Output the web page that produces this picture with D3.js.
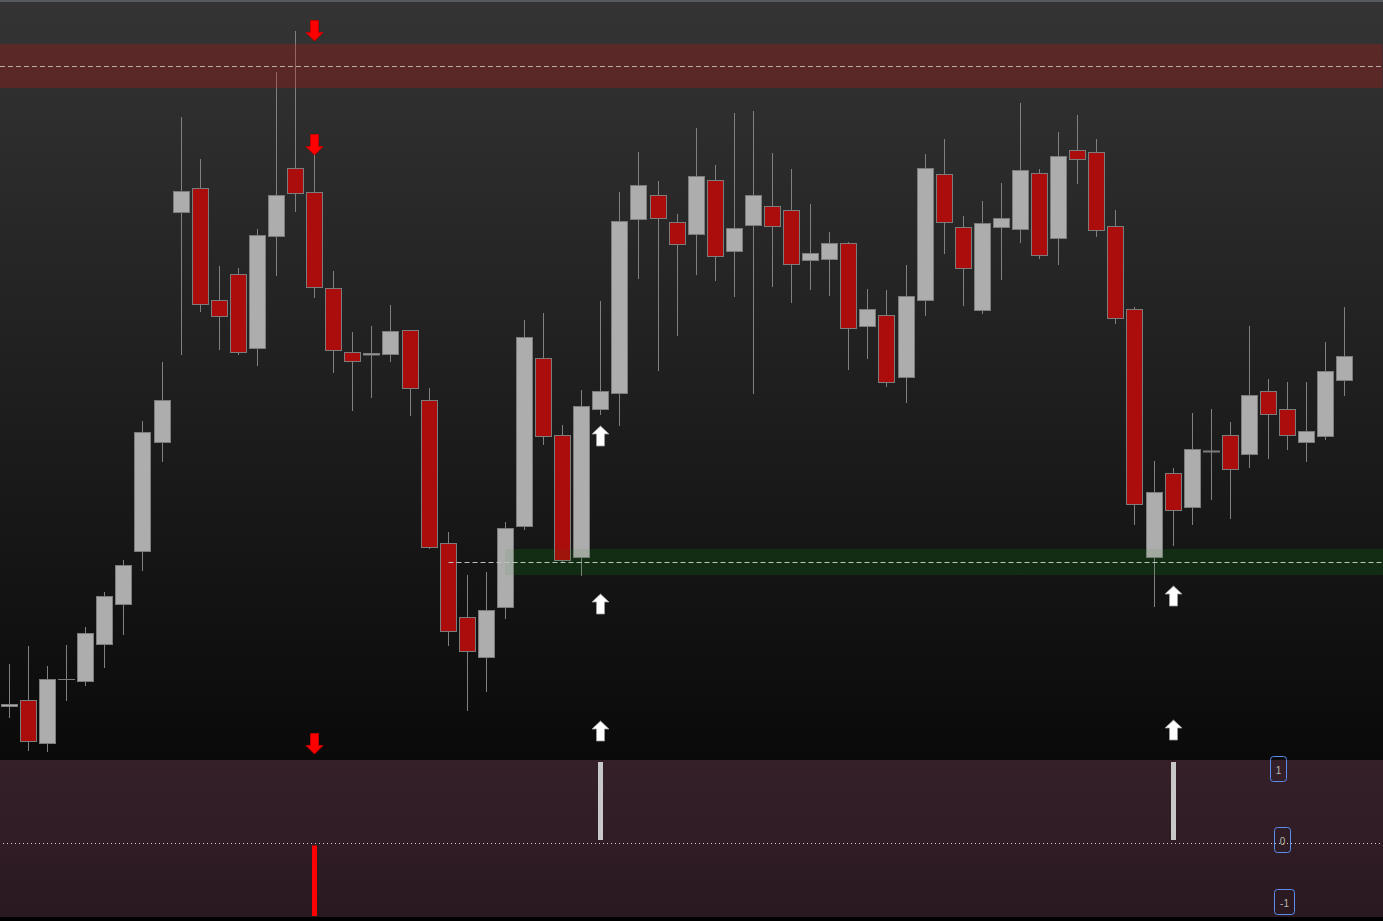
<!DOCTYPE html>
<html><head><meta charset="utf-8">
<style>html,body{margin:0;padding:0;background:#000;overflow:hidden}svg{display:block}</style>
<script src="https://d3js.org/d3.v7.min.js"></script></head><body><svg id="c" width="1383" height="921"></svg>
<script>
const highs=[96,114,94,115,133,168,200,339,398,643,601,494,492,531,688,729,605,489,428,434,455,430,372,228,185,188,238,440,447,335,370,459,568,608,579,546,632,595,647,649,607,591,556,528,518,471,470,495,606,621,544,559,577,657,591,628,645,621,550,453,299,292,347,351,338,434,381,378,378,418,453];
const lows=[42,9,8,59,74,92,125,189,298,405,448,410,405,394,484,548,462,387,349,362,398,344,211,114,49,68,141,230,315,198,184,345,334,481,389,424,485,479,463,366,473,457,470,464,390,401,373,357,444,506,454,446,480,517,501,495,576,523,436,235,153,214,235,260,241,292,301,310,298,320,364];
const opens=[53.5,59.5,16.5,80.5,78.5,115.5,155.5,208.5,317.5,547.5,571.5,459.5,485.5,411.5,523.5,591.5,567.5,471.5,407.5,405,405.5,429.5,359.5,216.5,142.5,102.5,152.5,233.5,401.5,324.5,202.5,350.5,366.5,540.5,564.5,537.5,525.5,579.5,508.5,534.5,553.5,549.5,499.5,500.5,516.5,433.5,444.5,382.5,459.5,585.5,532.5,449.5,532.5,530.5,586.5,521.5,609.5,607.5,533.5,450.5,202.5,286.5,252.5,308,324.5,305.5,368.5,350.5,317.5,323.5,379.5];
const closes=[55.5,18.5,80.5,80.5,126.5,163.5,194.5,327.5,359.5,568.5,455.5,443.5,407.5,524.5,564.5,566.5,472.5,409.5,398.5,406.5,428.5,371.5,212.5,128.5,108.5,149.5,231.5,422.5,323.5,199.5,353.5,368.5,538.5,574.5,541.5,515.5,583.5,503.5,531.5,564.5,533.5,495.5,506.5,516.5,431.5,450.5,377.5,463.5,591.5,537.5,491.5,536.5,541.5,589.5,504.5,603.5,600.5,529.5,441.5,255.5,267.5,249.5,310.5,309,290.5,364.5,345.5,324.5,328.5,388.5,403.5];
const resistance={level:693.5,upper:716,lower:672,from:0};
const support={level:197.5,upper:211,lower:185,from:26,lineFrom:23};
const downSignals=[[16,719],[16,605],[16,6]];
const upSignals=[[31,334],[31,166],[31,39],[61,174],[61,40]];
const oscillator=[[16,-1],[31,1],[61,1]];
const oscTicks=[1,0,-1];

const W=1383,H=921,PANEL_TOP=760,PANEL_BOTTOM=917;
const svg=d3.select('#c');
const defs=svg.append('defs');
function grad(id,stops){const g=defs.append('linearGradient').attr('id',id).attr('x1',0).attr('x2',0).attr('y1',0).attr('y2',1);
 stops.forEach(s=>g.append('stop').attr('offset',s[0]).attr('stop-color',s[1]));}
grad('bg',[[0,'#343434'],[1,'#0a0a0a']]);
grad('pn',[[0,'#352029'],[1,'#2a1921']]);

const x=d3.scaleLinear().domain([0,70]).range([9.39,1344.85]);
const y=d3.scaleLinear().domain([0,760]).range([760,0]);
const xp=i=>Math.floor(x(i))+.5;
const xEdge=i=>xp(i)-.5;

svg.append('rect').attr('width',W).attr('height',H).attr('fill','#000');
svg.append('rect').attr('width',W).attr('height',PANEL_TOP).attr('fill','url(#bg)');
svg.append('rect').attr('width',W).attr('height',2).attr('fill','#565a5e');

// demand zone base, beneath the candles
svg.append('rect').attr('x',xEdge(support.from)).attr('width',W)
 .attr('y',y(support.upper)).attr('height',y(support.lower)-y(support.upper))
 .attr('fill','rgba(15,135,20,0.14)');

const candles=d3.range(highs.length).map(i=>({i,h:highs[i],l:lows[i],o:opens[i],c:closes[i]}));
const g=svg.append('g');
g.selectAll('line.w').data(candles).join('line').attr('class','w')
 .attr('x1',d=>xp(d.i)).attr('x2',d=>xp(d.i)).attr('y1',d=>y(d.h)).attr('y2',d=>y(d.l))
 .attr('stroke','#808080').attr('stroke-width',1);
g.selectAll('rect.b').data(candles).join('rect').attr('class','b')
 .attr('x',d=>xp(d.i)-8).attr('width',16)
 .attr('y',d=>y(Math.max(d.o,d.c))).attr('height',d=>Math.max(.01,Math.abs(d.o-d.c)))
 .attr('fill',d=>d.c>=d.o?'#adadad':'#ab0c0c')
 .attr('stroke','#7c7c7c').attr('stroke-width',1);

// supply / demand zones
svg.append('rect').attr('x',x(resistance.from)-10).attr('width',W)
 .attr('y',y(resistance.upper)).attr('height',y(resistance.lower)-y(resistance.upper))
 .attr('fill','rgba(220,15,15,0.25)');
svg.append('rect').attr('x',xEdge(support.from)).attr('width',W)
 .attr('y',y(support.upper)).attr('height',y(support.lower)-y(support.upper))
 .attr('fill','rgba(15,135,20,0.07)');
svg.append('line').attr('x1',0).attr('x2',W).attr('y1',y(resistance.level)).attr('y2',y(resistance.level))
 .attr('stroke','#bfa8a8').attr('stroke-dasharray','5 3');
svg.append('line').attr('x1',xp(support.lineFrom)).attr('x2',W).attr('y1',y(support.level)).attr('y2',y(support.level))
 .attr('stroke','#bcc4bc').attr('stroke-dasharray','5 3');

// signal arrows (anchored at the tip)
const downShape='M-4,-20.5H4V-8.5H8.5L0,0L-8.5,-8.5H-4Z';
const upShape='M-4,20H4V8H8.5L0,0L-8.5,8H-4Z';
svg.selectAll('path.d').data(downSignals).join('path').attr('class','d').attr('d',downShape)
 .attr('transform',d=>`translate(${xp(d[0])},${y(d[1])})`).attr('fill','#ff0000').attr('stroke','#c00000').attr('stroke-width',1);
svg.selectAll('path.u').data(upSignals).join('path').attr('class','u').attr('d',upShape)
 .attr('transform',d=>`translate(${xp(d[0])},${y(d[1])})`).attr('fill','#ffffff').attr('stroke','#9a9a9a').attr('stroke-width',.8);

// oscillator panel
svg.append('rect').attr('y',PANEL_TOP).attr('width',W).attr('height',PANEL_BOTTOM-PANEL_TOP).attr('fill','url(#pn)');
const yo=d3.scaleLinear().domain([-1,1]).range([916,762]);
const zero=843.5;
svg.append('line').attr('x1',3).attr('x2',W).attr('y1',zero).attr('y2',zero)
 .attr('stroke','#d8d0d4').attr('stroke-dasharray','1 3');
svg.selectAll('rect.o').data(oscillator).join('rect').attr('class','o')
 .attr('x',d=>xp(d[0])-2.5).attr('width',5)
 .attr('y',d=>d[1]>0?yo(d[1]):zero+2)
 .attr('height',d=>d[1]>0?(zero-3.5-yo(d[1])):(yo(d[1])-zero-2))
 .attr('fill',d=>d[1]>0?'#c8c8c8':'#ff0000');

// oscillator tick tags
const tagX=[1270.5,1274.5,1274.5],tagW=[16,16,20],tagY=[756.5,827.5,889.5];
const tags=svg.selectAll('g.t').data(oscTicks).join('g').attr('class','t');
tags.append('rect').attr('x',(d,i)=>tagX[i]).attr('y',(d,i)=>tagY[i]).attr('width',(d,i)=>tagW[i]).attr('height',25)
 .attr('rx',3).attr('fill','none').attr('stroke','#5b8cf0').attr('stroke-width',1);
tags.append('text').attr('x',(d,i)=>tagX[i]+tagW[i]/2).attr('y',(d,i)=>tagY[i]+17)
 .attr('text-anchor','middle').attr('font-family','Liberation Sans, Arial, sans-serif').attr('font-size',10)
 .attr('fill','#b4b8ae').text(d=>d);
</script></body></html>
